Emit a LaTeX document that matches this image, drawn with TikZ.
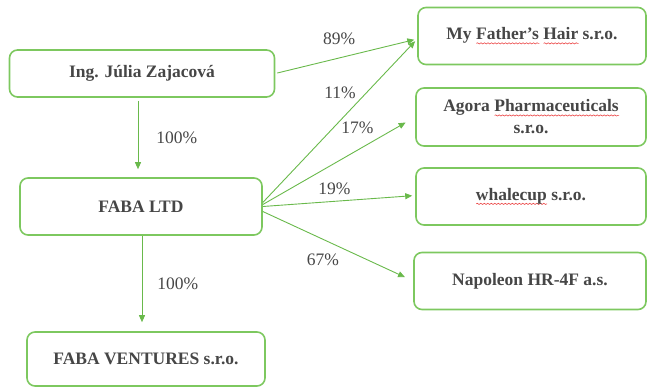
\documentclass[tikz,border=0pt]{standalone}
\usepackage{fontspec}
\setmainfont{Liberation Serif}
\usepackage{tikz}
\usetikzlibrary{arrows.meta,decorations.pathmorphing}

\definecolor{boxgreen}{RGB}{125,200,95}
\definecolor{linkgreen}{RGB}{105,185,75}
\definecolor{inkgray}{RGB}{70,70,70}
\definecolor{wavered}{RGB}{235,70,70}

% red spell-check squiggle under a word
\newsavebox\wavebox
\newcommand\redwave[1]{\sbox\wavebox{#1}\rlap{\tikz[baseline=0pt,x=1pt,y=1pt,sharp corners]\draw[wavered,line width=0.6pt,
    decorate,decoration={snake,amplitude=0.6pt,segment length=3.5pt}] (0pt,-3.5pt) -- (\wd\wavebox,-3.5pt);}#1}

\begin{document}
\begin{tikzpicture}[x=1pt,y=-1pt,
    firm/.style={draw=boxgreen,line width=1.6pt,rounded corners=8pt,text=inkgray,
      font=\bfseries\fontsize{17.5}{22}\selectfont,align=center,inner sep=0pt},
    share/.style={draw=linkgreen,line width=0.9pt,-{Triangle[length=7pt,width=6pt]}},
    pct/.style={text=inkgray,font=\fontsize{17.5}{20}\selectfont,inner sep=1pt}]
  \useasboundingbox (0,0) rectangle (650,388);
  \node[firm,minimum width=265pt,minimum height=47pt] (ing) at (142,73.5) {Ing. Júlia Zajacová};
  \node[firm,minimum width=242pt,minimum height=57pt] (faba) at (141,206.5) {FABA LTD};
  \node[firm,minimum width=238pt,minimum height=54pt] (ventures) at (146,359) {FABA VENTURES s.r.o.};
  \node[firm,minimum width=228pt,minimum height=57pt] (hair) at (532,36) {My \redwave{Father’s} \redwave{Hair} s.r.o.};
  \node[firm,minimum width=230pt,minimum height=58pt] (agora) at (531,117) {Agora \redwave{Pharmaceuticals}\\s.r.o.};
  \node[firm,minimum width=230pt,minimum height=57pt] (whale) at (531,196.5) {\redwave{whalecup} s.r.o.};
  \node[firm,minimum width=232pt,minimum height=57pt] (napo) at (530,281) {Napoleon HR-4F a.s.};
  % ownership arrows
  \draw[share,shorten <=3pt,shorten >=8pt] ([xshift=-4pt]ing.south)
    -- node[pct,right=17pt]{100\%} ([xshift=-4pt]ing.south |- faba.north);
  \draw[share,shorten >=9pt] ([xshift=1pt]faba.south)
    -- node[pct,right=14pt]{100\%} ([xshift=1pt]faba.south |- ventures.north);
  \draw[share,shorten <=2pt,shorten >=3pt] (ing.east)
    -- node[pct,pos=0.45,above=12pt]{89\%} ([yshift=-3pt]hair.west);
  \draw[share,shorten >=3pt] ([yshift=4pt]faba.east)
    -- node[pct,pos=0.67,left=9pt]{11\%} ([yshift=-3pt]hair.west);
  \draw[share,shorten >=11pt] ([yshift=2pt]faba.east)
    -- node[pct,pos=0.62,above=15pt]{17\%} (agora.west);
  \draw[share,shorten >=3pt] (faba.east)
    -- node[pct,pos=0.47,above=5pt]{19\%} ([yshift=1pt]whale.west);
  \draw[share,shorten >=9pt] ([yshift=-5pt]faba.east)
    -- node[pct,pos=0.4,below=13pt]{67\%} (napo.west);
\end{tikzpicture}
\end{document}
